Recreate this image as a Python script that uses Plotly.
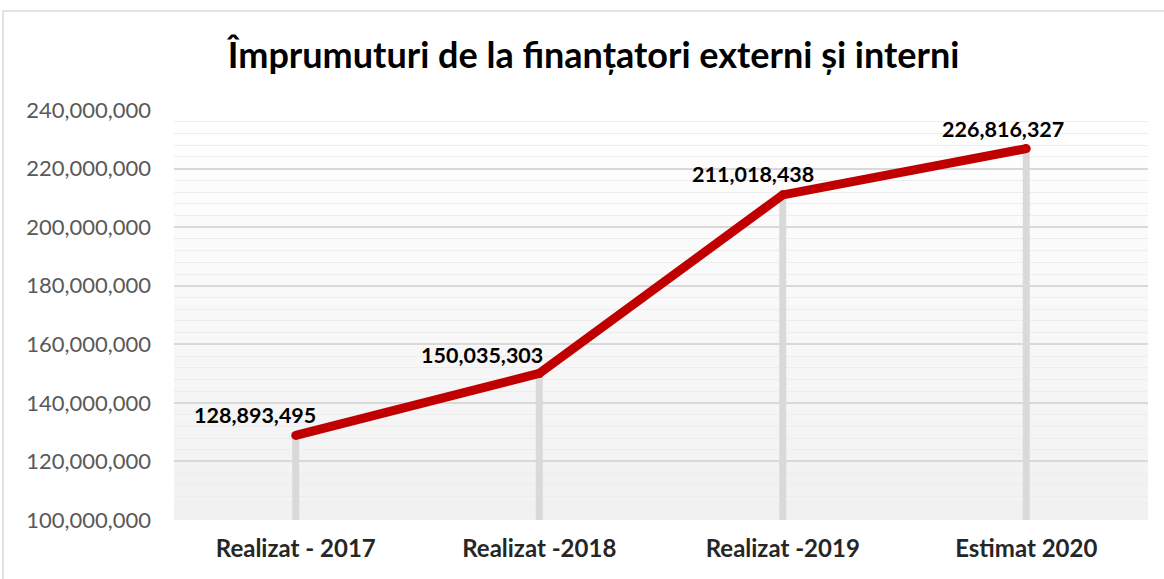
import plotly.graph_objects as go

# date grafic
categorii = ["Realizat - 2017", "Realizat -2018", "Realizat -2019", "Estimat 2020"]
valori = [128893495, 150035303, 211018438, 226816327]
y_min = 100000000
y_max = 240000000

# decalaj etichete (px)
label_dx = [-41, -57, -30, -23]
label_dy = [20, 18, 21, 20]

FONT = "Lato"

fig = go.Figure()

# linii verticale gri de la punct la axa
drop_x, drop_y = [], []
for c, v in zip(categorii, valori):
    drop_x += [c, c, None]
    drop_y += [y_min, v, None]
fig.add_trace(go.Scatter(
    x=drop_x, y=drop_y, mode="lines",
    line=dict(color="#d9d9d9", width=7),
    hoverinfo="skip", showlegend=False,
))

# linia rosie
fig.add_trace(go.Scatter(
    x=categorii, y=valori, mode="lines+markers",
    line=dict(color="#c00000", width=9),
    marker=dict(color="#c00000", size=9),
    showlegend=False,
))

# etichete de date
for c, v, dx, dy in zip(categorii, valori, label_dx, label_dy):
    fig.add_annotation(
        x=c, y=v, text=f"{v:,}", showarrow=False,
        xshift=dx, yshift=dy,
        font=dict(family=FONT, size=21.5, color="#000000", weight="bold"),
    )

# fundal in degrade (alb sus -> gri jos)
n = 40
for i in range(n):
    t = i / (n - 1)
    g = round(255 - (255 - 241) * (1 - t))
    fig.add_shape(
        type="rect", xref="paper", yref="paper",
        x0=0, x1=1, y0=i / n, y1=(i + 1) / n,
        fillcolor=f"rgb({g},{g},{g})", line_width=0, layer="below",
    )

# chenar exterior
fig.add_shape(
    type="rect", xref="paper", yref="paper",
    x0=-0.1756, x1=1.03, y0=-0.2, y1=1.2415,
    line=dict(color="#d9d9d9", width=1.5), fillcolor="rgba(0,0,0,0)",
    layer="below",
)

fig.update_layout(
    width=1164, height=579,
    margin=dict(l=174, r=16, t=110, b=59),
    paper_bgcolor="white",
    plot_bgcolor="rgba(0,0,0,0)",
    title=dict(
        text="Împrumuturi de la finanțatori externi și interni",
        x=0.51, xanchor="center", y=0.905, yanchor="middle",
        font=dict(family=FONT, size=36, color="#000000", weight="bold"),
    ),
)

fig.update_yaxes(
    range=[y_min, y_max], dtick=20000000, tickformat=",",
    showgrid=True, gridcolor="#d9d9d9", gridwidth=1.5,
    minor=dict(dtick=4000000, showgrid=True, gridcolor="#ededed", gridwidth=1.2),
    zeroline=False, showline=False, ticks="",
    tickfont=dict(family=FONT, size=22, color="#595959"),
    ticklabelstandoff=22,
)
fig.update_xaxes(
    range=[-0.5, 3.5],
    showgrid=False, zeroline=False, showline=False, ticks="",
    tickfont=dict(family=FONT, size=24, color="#262626", weight="bold"),
    ticklabelstandoff=12,
)

fig.write_html(
    "out.html",
    config={"displayModeBar": False},
    post_script="document.body.style.margin='0';",
)
